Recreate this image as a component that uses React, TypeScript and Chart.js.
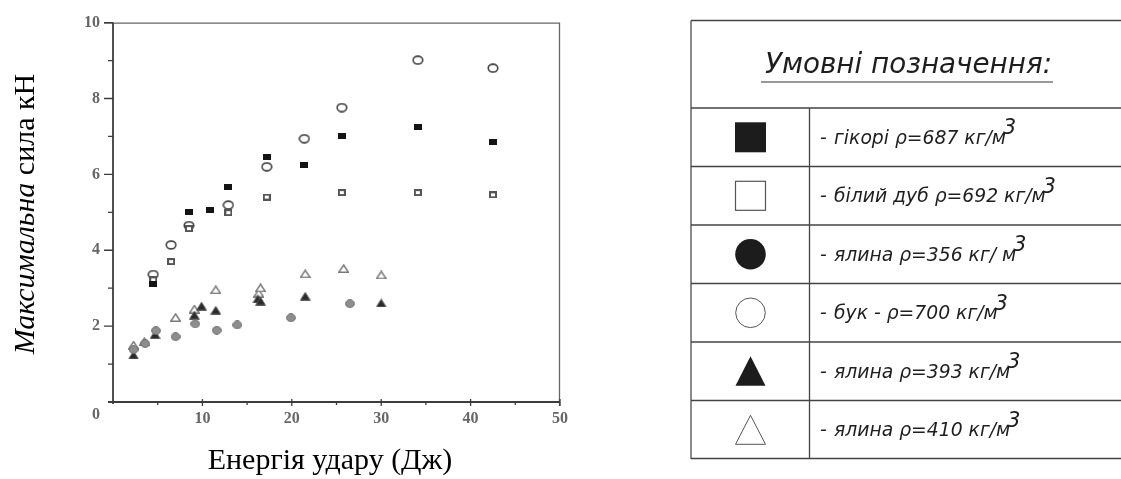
import React, { useEffect, useRef } from "react";
import { Chart, registerables } from "chart.js";

Chart.register(...registerables);

// ---------------- data ----------------
const hickoryEnergy = [4.5, 8.5, 10.8, 12.9, 17.2, 21.4, 25.6, 34.1, 42.5];
const hickoryForce = [3.12, 5.0, 5.06, 5.68, 6.47, 6.24, 7.0, 7.25, 6.84];

const whiteOakEnergy = [4.5, 6.5, 8.5, 12.9, 17.2, 25.6, 34.1, 42.5];
const whiteOakForce = [3.22, 3.7, 4.57, 4.99, 5.4, 5.52, 5.52, 5.46];

const spruce356Energy = [2.3, 3.6, 4.8, 7.0, 9.2, 11.6, 13.9, 19.9, 26.5];
const spruce356Force = [1.38, 1.54, 1.88, 1.72, 2.06, 1.89, 2.03, 2.22, 2.59];

const beechEnergy = [4.5, 6.5, 8.5, 12.9, 17.2, 21.4, 25.6, 34.1, 42.5];
const beechForce = [3.36, 4.14, 4.65, 5.19, 6.2, 6.94, 7.76, 9.01, 8.8];

const spruce393Energy = [2.3, 4.7, 9.1, 9.9, 11.5, 16.2, 16.5, 21.5, 30.0];
const spruce393Force = [1.24, 1.78, 2.29, 2.53, 2.42, 2.72, 2.66, 2.79, 2.61];

const spruce410Energy = [2.3, 3.5, 7.0, 9.1, 11.5, 16.3, 16.5, 21.5, 25.8, 30.0];
const spruce410Force = [1.5, 1.59, 2.23, 2.45, 2.96, 2.87, 3.01, 3.38, 3.52, 3.35];

const seriesLabels = [
  "гікорі ρ=687 кг/м",
  "білий дуб ρ=692 кг/м",
  "ялина ρ=356 кг/ м",
  "бук - ρ=700 кг/м",
  "ялина ρ=393 кг/м",
  "ялина ρ=410 кг/м",
];
const unitPower = "3";
const legendTitle = "Умовні позначення:";
const xTitle = "Енергія удару (Дж)";
const yTitleItalic = "Максимальна";
const yTitleRest = " сила кН";
const xMin = 0;
const xMax = 50;
const xStep = 5;
const yMin = 0;
const yMax = 10;
const yStep = 1;

// ---------------- styles ----------------
type Kind =
  | "filledSquare"
  | "openSquare"
  | "filledCircle"
  | "openCircle"
  | "filledTriangle"
  | "openTriangle";

const seriesKinds: Kind[] = [
  "filledSquare",
  "openSquare",
  "filledCircle",
  "openCircle",
  "filledTriangle",
  "openTriangle",
];

const seriesX = [hickoryEnergy, whiteOakEnergy, spruce356Energy, beechEnergy, spruce393Energy, spruce410Energy];
const seriesY = [hickoryForce, whiteOakForce, spruce356Force, beechForce, spruce393Force, spruce410Force];

function makeCanvas(w: number, h: number, draw: (g: CanvasRenderingContext2D) => void) {
  const c = document.createElement("canvas");
  c.width = w;
  c.height = h;
  const g = c.getContext("2d")!;
  draw(g);
  return c;
}

function plotMarker(kind: Kind): HTMLCanvasElement {
  switch (kind) {
    case "filledSquare":
      return makeCanvas(8, 6, (g) => {
        g.fillStyle = "#141414";
        g.fillRect(0, 0, 8, 6);
      });
    case "openSquare":
      return makeCanvas(8, 7, (g) => {
        g.fillStyle = "#555";
        g.fillRect(0, 0, 8, 7);
        g.fillStyle = "#fff";
        g.fillRect(2, 2, 4, 3);
      });
    case "filledCircle":
      return makeCanvas(10, 9, (g) => {
        g.beginPath();
        g.ellipse(5, 4.5, 4.4, 3.9, 0, 0, Math.PI * 2);
        g.fillStyle = "#8e8e8e";
        g.fill();
        g.strokeStyle = "#6e6e6e";
        g.lineWidth = 1;
        g.stroke();
      });
    case "openCircle":
      return makeCanvas(12, 10, (g) => {
        g.beginPath();
        g.ellipse(6, 5, 4.8, 3.9, 0, 0, Math.PI * 2);
        g.fillStyle = "#fff";
        g.fill();
        g.strokeStyle = "#444";
        g.lineWidth = 1.6;
        g.stroke();
      });
    case "filledTriangle":
      return makeCanvas(11, 9, (g) => {
        g.beginPath();
        g.moveTo(5.5, 0.7);
        g.lineTo(10.3, 8.4);
        g.lineTo(0.7, 8.4);
        g.closePath();
        g.fillStyle = "#2a2a2a";
        g.fill();
        g.strokeStyle = "#555";
        g.lineWidth = 1;
        g.stroke();
      });
    case "openTriangle":
    default:
      return makeCanvas(11, 9, (g) => {
        g.beginPath();
        g.moveTo(5.5, 1);
        g.lineTo(10.2, 8.2);
        g.lineTo(0.8, 8.2);
        g.closePath();
        g.fillStyle = "#fff";
        g.fill();
        g.strokeStyle = "#7a7a7a";
        g.lineWidth = 1.5;
        g.stroke();
      });
  }
}

function legendMarker(ctx: CanvasRenderingContext2D, kind: Kind, cx: number, cy: number) {
  ctx.save();
  const dark = "#1c1c1c";
  ctx.lineWidth = 1.2;
  ctx.strokeStyle = "#555";
  switch (kind) {
    case "filledSquare":
      ctx.fillStyle = dark;
      ctx.fillRect(cx - 15.5, cy - 15, 31, 30);
      break;
    case "openSquare":
      ctx.strokeRect(cx - 15, cy - 14.5, 30, 29);
      break;
    case "filledCircle":
      ctx.beginPath();
      ctx.arc(cx, cy, 15.3, 0, Math.PI * 2);
      ctx.fillStyle = dark;
      ctx.fill();
      break;
    case "openCircle":
      ctx.beginPath();
      ctx.arc(cx, cy, 14.8, 0, Math.PI * 2);
      ctx.lineWidth = 1;
      ctx.stroke();
      break;
    case "filledTriangle":
      ctx.beginPath();
      ctx.moveTo(cx, cy - 15);
      ctx.lineTo(cx + 15, cy + 14.5);
      ctx.lineTo(cx - 15, cy + 14.5);
      ctx.closePath();
      ctx.fillStyle = dark;
      ctx.fill();
      break;
    case "openTriangle":
      ctx.beginPath();
      ctx.moveTo(cx, cy - 14.5);
      ctx.lineTo(cx + 15, cy + 14.5);
      ctx.lineTo(cx - 15, cy + 14.5);
      ctx.closePath();
      ctx.lineWidth = 1;
      ctx.stroke();
      break;
  }
  ctx.restore();
}

const tickFont = { family: "'Liberation Serif', 'Times New Roman', serif", size: 16, weight: "bold" as const };
const tickColor = "#666";
const titleSize = 30;

const axesPlugin = {
  id: "axesFrame",
  afterDraw(chart: any) {
    const { ctx, chartArea: a, scales } = chart;
    const xs = scales.x;
    const ys = scales.y;
    ctx.save();
    // frame (top & right)
    ctx.strokeStyle = "#666";
    ctx.lineWidth = 1.3;
    ctx.beginPath();
    ctx.moveTo(a.left - 9, a.top + 0.5);
    ctx.lineTo(a.right, a.top + 0.5);
    ctx.moveTo(a.right - 0.5, a.top);
    ctx.lineTo(a.right - 0.5, a.bottom + 4);
    ctx.stroke();
    // main axes
    ctx.strokeStyle = "#3c3c3c";
    ctx.lineWidth = 1.8;
    ctx.beginPath();
    ctx.moveTo(a.left, a.top);
    ctx.lineTo(a.left, a.bottom + 2);
    ctx.moveTo(a.left - 5, a.bottom);
    ctx.lineTo(a.right, a.bottom);
    ctx.stroke();
    // y ticks
    ctx.lineWidth = 1.3;
    ctx.beginPath();
    ys.ticks.forEach((t: any) => {
      if (t.value === yMin) return;
      const py = ys.getPixelForValue(t.value);
      const len = t.value % 2 === 0 ? 9 : 5;
      ctx.moveTo(a.left - len, py);
      ctx.lineTo(a.left, py);
    });
    // x ticks
    xs.ticks.forEach((t: any) => {
      if (t.value === xMin) return;
      const px = xs.getPixelForValue(t.value);
      if (t.value % 10 === 0) {
        ctx.moveTo(px, a.bottom - 3);
        ctx.lineTo(px, a.bottom + 4);
      } else {
        ctx.moveTo(px, a.bottom);
        ctx.lineTo(px, a.bottom + 3);
      }
    });
    ctx.stroke();
    // origin label
    ctx.fillStyle = tickColor;
    ctx.font = `bold ${tickFont.size}px ${tickFont.family}`;
    ctx.textAlign = "center";
    ctx.textBaseline = "middle";
    ctx.fillText(String(xMin), a.left - 17, a.bottom + 13);

    // axis titles
    ctx.fillStyle = "#000";
    ctx.textBaseline = "alphabetic";
    ctx.font = `${titleSize}px 'Liberation Serif', serif`;
    ctx.textAlign = "center";
    ctx.fillText(xTitle, 330, 469);

    ctx.save();
    ctx.translate(34, 214);
    ctx.rotate(-Math.PI / 2);
    ctx.textAlign = "left";
    ctx.font = `italic ${titleSize}px 'Liberation Serif', serif`;
    const w1 = ctx.measureText(yTitleItalic).width;
    ctx.font = `${titleSize}px 'Liberation Serif', serif`;
    const w2 = ctx.measureText(yTitleRest).width;
    const start = -(w1 + w2) / 2;
    ctx.font = `italic ${titleSize}px 'Liberation Serif', serif`;
    ctx.fillText(yTitleItalic, start, 0);
    ctx.font = `${titleSize}px 'Liberation Serif', serif`;
    ctx.fillText(yTitleRest, start + w1, 0);
    ctx.restore();
    ctx.restore();
  },
};

const legendPlugin = {
  id: "legendTable",
  afterDraw(chart: any) {
    const ctx: CanvasRenderingContext2D = chart.ctx;
    const left = 691;
    const top = 20.5;
    const bottom = 459;
    const divider = 809.5;
    const rowTops = [108, 166.5, 225, 283.5, 342, 400.5];
    ctx.save();
    // borders
    ctx.strokeStyle = "#8a8a8a";
    ctx.lineWidth = 2;
    ctx.beginPath();
    ctx.moveTo(left, top);
    ctx.lineTo(left, bottom);
    ctx.stroke();
    ctx.strokeStyle = "#444";
    ctx.lineWidth = 1.3;
    ctx.beginPath();
    ctx.moveTo(left, top);
    ctx.lineTo(1121, top);
    rowTops.concat([bottom - 0.5]).forEach((y) => {
      ctx.moveTo(left, y);
      ctx.lineTo(1121, y);
    });
    ctx.moveTo(divider, rowTops[0]);
    ctx.lineTo(divider, bottom);
    ctx.stroke();

    // header
    ctx.fillStyle = "#1e1e1e";
    ctx.textBaseline = "alphabetic";
    ctx.textAlign = "left";
    ctx.font = "italic 29px 'DejaVu Sans', sans-serif";
    const hw = ctx.measureText(legendTitle).width;
    const hs = 287 / hw;
    ctx.save();
    ctx.translate(765, 73.3);
    ctx.scale(hs, 1);
    ctx.fillText(legendTitle, 0, 0);
    ctx.restore();
    ctx.strokeStyle = "#333";
    ctx.lineWidth = 1;
    ctx.beginPath();
    ctx.moveTo(761, 82);
    ctx.lineTo(1053, 82);
    ctx.stroke();

    // rows: dash, then label, then superscript power
    ctx.font = "italic 19px 'DejaVu Sans', sans-serif";
    const refW = ctx.measureText(seriesLabels[0]).width;
    const rs = (1006 - 834) / refW;
    seriesLabels.forEach((lab, i) => {
      const cy = rowTops[i] + 29.3;
      legendMarker(ctx, seriesKinds[i], 750.5, cy);
      const base = rowTops[i] + 35.8;
      ctx.font = "italic 19px 'DejaVu Sans', sans-serif";
      const w = ctx.measureText(lab).width * rs;
      ctx.save();
      ctx.translate(820, base);
      ctx.scale(rs, 1);
      ctx.fillText("-", 0, 0);
      ctx.restore();
      ctx.save();
      ctx.translate(834, base);
      ctx.scale(rs, 1);
      ctx.fillText(lab, 0, 0);
      ctx.restore();
      ctx.font = "italic 21px 'DejaVu Sans', sans-serif";
      ctx.save();
      ctx.translate(834 + w - 3, base - 9.5);
      ctx.scale(rs, 1);
      ctx.fillText(unitPower, 0, 0);
      ctx.restore();
    });
    ctx.restore();
  },
};

export default function App() {
  const ref = useRef<HTMLCanvasElement>(null);

  useEffect(() => {
    const canvas = ref.current;
    if (!canvas) return;
    const datasets = seriesLabels.map((label, i) => ({
      label,
      data: seriesX[i].map((x, j) => ({ x, y: seriesY[i][j] })),
      pointStyle: plotMarker(seriesKinds[i]) as any,
      pointRadius: 5,
      pointHoverRadius: 5,
      showLine: false,
    }));
    const chart = new Chart(canvas, {
      type: "scatter",
      data: { datasets },
      options: {
        responsive: false,
        animation: false,
        events: [],
        layout: { padding: { left: 0, top: 19, right: 1121 - 560, bottom: 0 } },
        plugins: { legend: { display: false }, tooltip: { enabled: false } },
        scales: {
          x: {
            type: "linear",
            min: xMin,
            max: xMax,
            grid: { display: false, drawTicks: false },
            border: { display: false },
            ticks: {
              stepSize: xStep,
              autoSkip: false,
              maxRotation: 0,
              padding: 7,
              color: tickColor,
              font: tickFont,
              callback: (v: any) => (v % 10 === 0 && v !== xMin ? String(v) : ""),
            },
            afterFit: (s: any) => {
              s.height = 479 - 402;
            },
          },
          y: {
            type: "linear",
            min: yMin,
            max: yMax,
            grid: { display: false, drawTicks: false },
            border: { display: false },
            ticks: {
              stepSize: yStep,
              autoSkip: false,
              padding: 13,
              color: tickColor,
              font: tickFont,
              callback: (v: any) => (v % 2 === 0 && v !== yMin ? String(v) : ""),
            },
            afterFit: (s: any) => {
              s.width = 113;
            },
          },
        },
      },
      plugins: [axesPlugin, legendPlugin],
    });
    return () => chart.destroy();
  }, []);

  return (
    <div
      style={{
        position: "fixed",
        left: 0,
        top: 0,
        width: 1121,
        height: 479,
        overflow: "hidden",
        background: "#fff",
      }}
    >
      <canvas ref={ref} width={1121} height={479} style={{ display: "block" }} />
    </div>
  );
}
